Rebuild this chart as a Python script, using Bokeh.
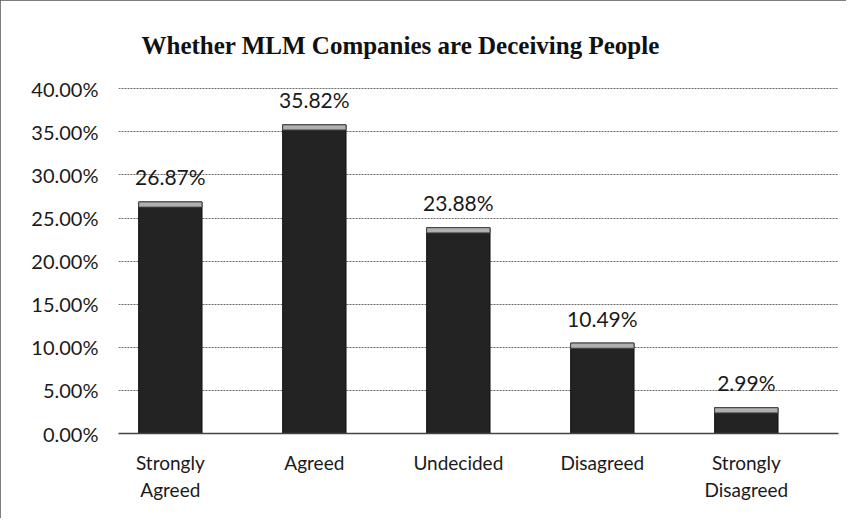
from bokeh.plotting import figure
from bokeh.models import Range1d, FixedTicker, PrintfTickFormatter, ColumnDataSource, Title
from bokeh.core.properties import value
from bokeh.embed import file_html
from bokeh.resources import INLINE

categories = ["Strongly\nAgreed", "Agreed", "Undecided", "Disagreed", "Strongly\nDisagreed"]
percentages = [26.87, 35.82, 23.88, 10.49, 2.99]
labels = ["26.87%", "35.82%", "23.88%", "10.49%", "2.99%"]
y_ticks = [0, 5, 10, 15, 20, 25, 30, 35, 40]

xs = list(range(len(categories)))
src = ColumnDataSource(dict(
    x=xs, top=percentages, lab=labels,
    bevel_bottom=[v - 0.6 for v in percentages],
))

p = figure(width=846, height=518, output_backend="svg", toolbar_location=None,
           x_range=Range1d(-0.36, 4.64), y_range=Range1d(0, 40.15),
           min_border_left=118, min_border_right=8, min_border_top=87,
           min_border_bottom=85)
p.styles = {"outline": "1.5px solid #555", "outline-offset": "-1px"}

p.title = Title(text="Whether MLM Companies are Deceiving People",
                text_font="Liberation Serif", text_font_size="25px",
                text_font_style="bold", text_color="#111", align="left",
                offset=23, standoff=57)

p.vbar(x="x", top="top", bottom=0, width=0.44, source=src,
       fill_color="#232323", line_color="#111", line_width=1)
p.vbar(x="x", top="top", bottom="bevel_bottom", width=0.44, source=src,
       fill_color="#b0b0b0", line_color="#444", line_width=1)

p.text(x="x", y="top", text="lab", source=src, text_align="center",
       text_baseline="alphabetic", y_offset=-25,
       text_font=value("Lato"), text_font_size="21px", text_color="#1a1a1a")

p.xgrid.visible = False
p.ygrid.grid_line_color = "#6a6a6a"
p.ygrid.grid_line_width = 1
p.ygrid.grid_line_dash = "2 1"

p.yaxis.ticker = FixedTicker(ticks=y_ticks)
p.yaxis.formatter = PrintfTickFormatter(format="%.2f%%")
p.yaxis.axis_line_color = None
p.yaxis.major_tick_line_color = None
p.yaxis.minor_tick_line_color = None
p.yaxis.major_label_standoff = 14
p.yaxis.major_label_text_font = "Lato"
p.yaxis.major_label_text_font_size = "20px"
p.yaxis.major_label_text_color = "#1a1a1a"

p.xaxis.ticker = FixedTicker(ticks=xs)
p.xaxis.major_label_overrides = {i: c for i, c in zip(xs, categories)}
p.xaxis.axis_line_color = "#444"
p.xaxis.axis_line_width = 1.5
p.xaxis.major_tick_line_color = None
p.xaxis.minor_tick_line_color = None
p.xaxis.major_label_standoff = 11
p.xaxis.major_label_text_font = "Lato"
p.xaxis.major_label_text_font_size = "19px"
p.xaxis.major_label_text_color = "#1a1a1a"

p.outline_line_color = None
p.background_fill_color = "white"
p.border_fill_color = "white"

open("out.html", "w").write(file_html(p, INLINE))
